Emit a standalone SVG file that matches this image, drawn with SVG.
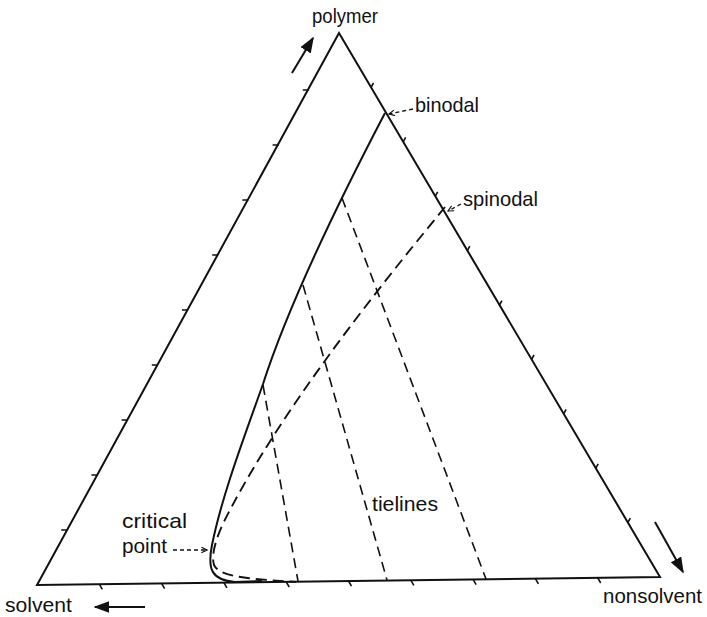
<svg xmlns="http://www.w3.org/2000/svg" width="707" height="617" viewBox="0 0 707 617">
<defs>
<style>
.edge{fill:none;stroke:#111;stroke-width:2;stroke-linejoin:miter}
.tick{stroke:#111;stroke-width:1.6;fill:none}
.bin{fill:none;stroke:#111;stroke-width:2}
.dash{fill:none;stroke:#111;stroke-width:1.6;stroke-dasharray:10 6}
.sdash{fill:none;stroke:#111;stroke-width:1.9;stroke-dasharray:11 6}
.ldash{fill:none;stroke:#111;stroke-width:1.3;stroke-dasharray:4 3}
.arr{stroke:#111;stroke-width:2;fill:none}
text{font-family:"Liberation Sans",Arial,sans-serif;font-size:21px;fill:#111}
</style>
<marker id="bigh" viewBox="0 0 10 10" refX="9" refY="5" markerWidth="16" markerHeight="12" markerUnits="userSpaceOnUse" orient="auto" preserveAspectRatio="none">
<path d="M0,0 L10,5 L0,10 z" fill="#111"/>
</marker>
<marker id="open" viewBox="0 0 10 10" refX="9" refY="5" markerWidth="7" markerHeight="7" markerUnits="userSpaceOnUse" orient="auto">
<path d="M1,1 L9,5 L1,9" fill="none" stroke="#111" stroke-width="1.6"/>
</marker>
</defs>

<g id="triangle">
<path class="edge" d="M339,33 L37,585 L660,577 Z"/>
<g id="ticks-bottom">
<path class="tick" d="M99.3,584.2 l3,5.2 M161.6,583.4 l3,5.2 M223.9,582.6 l3,5.2 M286.2,581.8 l3,5.2 M348.5,581 l3,5.2 M410.8,580.2 l3,5.2 M473.1,579.4 l3,5.2 M535.4,578.6 l3,5.2 M597.7,577.8 l3,5.2"/>
</g>
<g id="ticks-left">
<path class="tick" d="M67.2,530 h-6 M97.4,475 h-6 M127.6,420 h-6 M157.8,365 h-6 M188,310 h-6 M218.2,255 h-6 M248.4,200 h-6 M278.6,145 h-6 M308.8,90 h-6"/>
</g>
<g id="ticks-right">
<path class="tick" d="M371.1,87.4 l2.4,-4.4 M403.2,141.8 l2.4,-4.4 M435.3,196.2 l2.4,-4.4 M467.4,250.6 l2.4,-4.4 M499.5,305 l2.4,-4.4 M531.6,359.4 l2.4,-4.4 M563.7,413.8 l2.4,-4.4 M595.8,468.2 l2.4,-4.4 M627.9,522.6 l2.4,-4.4"/>
</g>
</g>

<g id="binodal-curve">
<path class="bin" d="M385,113 C350,180 290,300 263,384 C245,435 222,495 212,545 C207,570 212,580 235,582 L262,581"/>
</g>

<g id="spinodal-curve">
<path class="sdash" d="M445,207 C400,262 290,395 230,510 C220,528 210,552 214,565 C220,578 255,579 296,582"/>
</g>

<g id="tielines">
<path class="dash" d="M263,385 L298,581"/>
<path class="dash" d="M303,285 L387,580"/>
<path class="dash" d="M342,198 L486,579"/>
</g>

<g id="connectors">
<path class="ldash" d="M413,109 L389,114" marker-end="url(#open)"/>
<path class="ldash" d="M461,204 L448,211" marker-end="url(#open)"/>
<path class="ldash" d="M173,550 L207,550" marker-end="url(#open)"/>
<path class="arr" d="M292,73 L313,38" marker-end="url(#bigh)"/>
<path class="arr" d="M145,607 L95,607" marker-end="url(#bigh)"/>
<path class="arr" d="M655,522 L683,572" marker-end="url(#bigh)"/>
</g>

<g id="labels">
<text x="312" y="23" textLength="66" lengthAdjust="spacingAndGlyphs">polymer</text>
<text x="415" y="112" textLength="64" lengthAdjust="spacingAndGlyphs">binodal</text>
<text x="463" y="206" textLength="75" lengthAdjust="spacingAndGlyphs">spinodal</text>
<text x="372" y="511" textLength="66" lengthAdjust="spacingAndGlyphs">tielines</text>
<text x="122" y="528" textLength="65" lengthAdjust="spacingAndGlyphs">critical</text>
<text x="122" y="553" textLength="45" lengthAdjust="spacingAndGlyphs">point</text>
<text x="5" y="612" textLength="67" lengthAdjust="spacingAndGlyphs">solvent</text>
<text x="603" y="603" textLength="99" lengthAdjust="spacingAndGlyphs">nonsolvent</text>
</g>
</svg>
